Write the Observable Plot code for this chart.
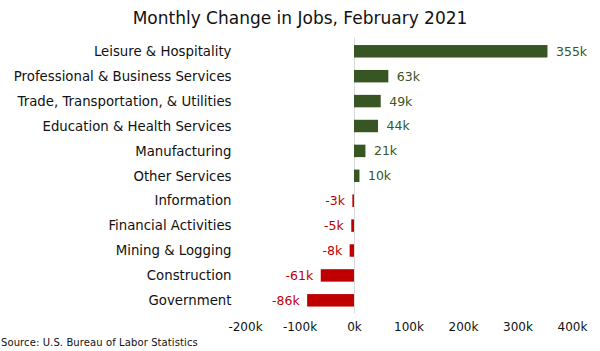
<!DOCTYPE html>
<html>
<head>
<meta charset="utf-8">
<script src="https://cdn.jsdelivr.net/npm/d3@7"></script>
<script src="https://cdn.jsdelivr.net/npm/@observablehq/plot@0.6"></script>
<style>
  html, body { margin: 0; padding: 0; background: #fff; }
  #wrap { position: relative; width: 600px; height: 351px; font-family: "DejaVu Sans", sans-serif; }
  #title { position: absolute; left: 0; top: 8px; width: 600px; text-align: center; font-size: 17px; color: #111; }
  #source { position: absolute; left: 1px; top: 337px; font-size: 10px; color: #111; letter-spacing: 0.1px; }
</style>
</head>
<body>
<div id="wrap">
  <div id="chart"></div>
  <div id="title">Monthly Change in Jobs, February 2021</div>
  <div id="source">Source: U.S. Bureau of Labor Statistics</div>
</div>
<script>
const categories = [
  "Leisure & Hospitality",
  "Professional & Business Services",
  "Trade, Transportation, & Utilities",
  "Education & Health Services",
  "Manufacturing",
  "Other Services",
  "Information",
  "Financial Activities",
  "Mining & Logging",
  "Construction",
  "Government"
];
const changes = [355, 63, 49, 44, 21, 10, -3, -5, -8, -61, -86]; // thousands
const xTicks = [-200, -100, 0, 100, 200, 300, 400];

const GREEN = "#375623";
const RED = "#C00000";

const data = categories.map((c, i) => ({ sector: c, value: changes[i] }));

const chart = Plot.plot({
  width: 600,
  height: 351,
  marginTop: 32.6,
  marginBottom: 32,
  marginLeft: 245,
  marginRight: 28,
  style: { fontFamily: "'DejaVu Sans', sans-serif", fontSize: "12px", color: "#111", background: "#fff" },
  x: {
    domain: [-200, 400],
    ticks: xTicks,
    tickFormat: d => d + "k",
    tickSize: 0,
    tickPadding: 3,
    label: null
  },
  y: {
    domain: categories,
    padding: 0.5,
    round: false,
    tickSize: 0,
    tickPadding: 14,
    label: null
  },
  marks: [
    Plot.ruleX([0], { stroke: "#d9d9d9", strokeWidth: 1, insetTop: 5.5, insetBottom: 6 }),
    Plot.barX(data, {
      x: "value",
      y: "sector",
      fill: d => d.value >= 0 ? GREEN : RED
    }),
    Plot.axisY({ tickSize: 0, tickPadding: 14, fontSize: 13.3, label: null }),
    Plot.text(data.filter(d => d.value >= 0), {
      x: "value", y: "sector", text: d => d.value + "k",
      textAnchor: "start", dx: 8, fill: GREEN, fontSize: 12.5
    }),
    Plot.text(data.filter(d => d.value < 0), {
      x: "value", y: "sector", text: d => d.value + "k",
      textAnchor: "end", dx: -8, fill: RED, fontSize: 12.5
    })
  ]
});
document.getElementById("chart").appendChild(chart);
</script>
</body>
</html>
